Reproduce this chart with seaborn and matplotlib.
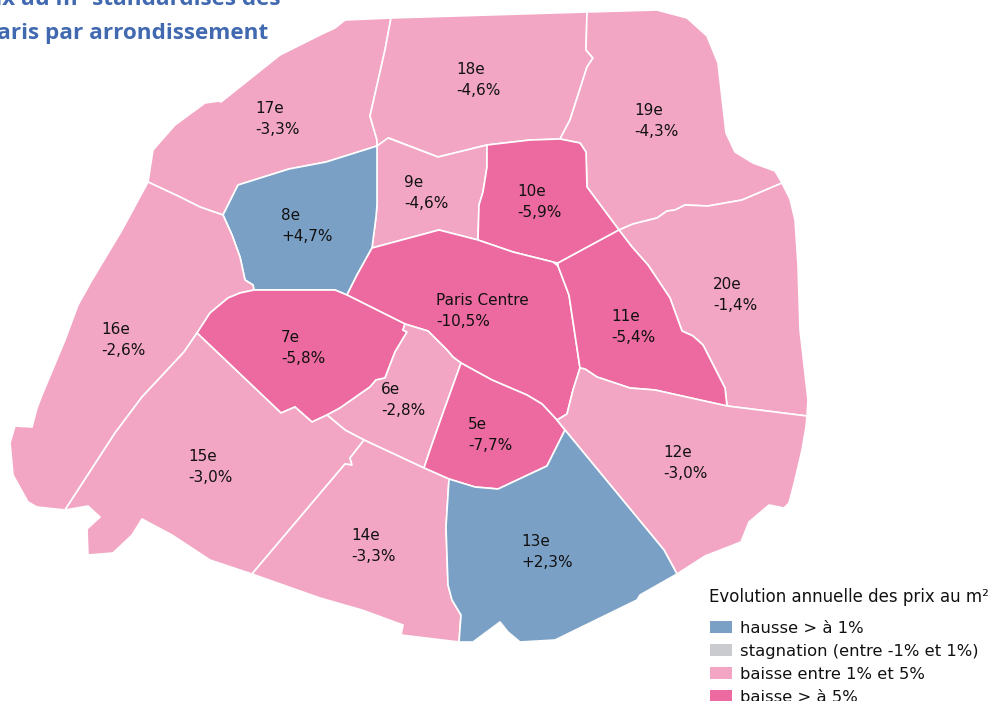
import matplotlib
matplotlib.use("Agg")
import matplotlib.pyplot as plt
from matplotlib.patches import Patch
import seaborn as sns

# ---------- data ----------
TITLE_LINE1 = "Evolution des prix au m² standardisés des"
TITLE_LINE2 = "Paris par arrondissement"
LEGEND_TITLE = "Evolution annuelle des prix au m²"
CLASS_LABELS = ["hausse > à 1%", "stagnation (entre -1% et 1%)",
                "baisse entre 1% et 5%", "baisse > à 5%"]
CLASS_COLORS = ["#7BA0C5", "#C9CBCE", "#F2A6C3", "#EC6A9F"]

DISTRICTS = ["17e", "18e", "19e", "9e", "8e", "10e", "20e", "16e", "Paris Centre",
             "11e", "7e", "6e", "5e", "15e", "12e", "14e", "13e"]
VALUES = ["-3,3%", "-4,6%", "-4,3%", "-4,6%", "+4,7%", "-5,9%", "-1,4%", "-2,6%", "-10,5%",
          "-5,4%", "-5,8%", "-2,8%", "-7,7%", "-3,0%", "-3,0%", "-3,3%", "+2,3%"]
CLASSES = [2, 2, 2, 2, 0, 3, 2, 2, 3, 3, 3, 2, 3, 2, 2, 2, 0]
LABEL_X = [255, 456, 634, 404, 281, 517, 713, 101, 436, 611, 281, 381, 468, 188, 663, 351, 521]
LABEL_Y = [119, 80, 121, 193, 226, 202, 295, 340, 311, 327, 348, 400, 435, 467, 463, 546, 552]

SHAPES = {
    "17e": [(148,182),(153,150),(175,125),(205,103),(219,101),(221,102),(280,55),(322,34),(335,28),(345,20),(391,18),
            (385,50),(370,116),(377,140),(377,146),(326,162),(289,169),(238,185),(223,215),(200,207),(178,196)],
    "18e": [(391,18),(587,12),(586,50),(593,58),(587,67),(570,120),(560,139),(530,140),(487,145),(438,157),(389,138),
            (377,146),(377,140),(370,116),(385,50)],
    "19e": [(587,12),(657,10),(687,18),(707,36),(718,63),(726,133),(735,152),(753,163),(775,171),(782,183),(742,200),
            (708,206),(685,205),(675,210),(667,211),(657,218),(633,224),(619,230),(587,187),(586,152),(580,143),(560,139),
            (570,120),(587,67),(593,58),(586,50)],
    "9e": [(377,146),(388,138),(438,157),(487,145),(487,167),(483,192),(479,205),(478,240),(439,230),(372,248),(376,217),(377,205)],
    "8e": [(377,146),(377,205),(376,217),(372,248),(357,275),(347,295),(335,290),(254,290),(253,285),(245,280),(240,257),(232,235),
           (223,215),(238,185),(289,169),(326,162)],
    "10e": [(487,145),(530,140),(560,139),(580,143),(586,152),(587,187),(619,230),(558,263),(553,262),(513,252),(478,240),(479,205),(483,192),(487,167)],
    "20e": [(782,183),(790,199),(795,220),(798,265),(800,330),(808,400),(807,416),(727,406),(725,388),(703,345),(693,336),(682,331),
            (670,298),(648,265),(632,247),(619,230),(633,224),(657,218),(667,211),(675,210),(685,205),(708,206),(742,200)],
    "16e": [(148,182),(178,196),(200,207),(223,215),(232,235),(240,257),(245,280),(253,285),(254,290),(240,293),(228,298),(210,313),(197,333),
            (184,352),(142,397),(115,433),(65,510),(37,507),(28,502),(13,475),(10,443),(15,426),(32,427),(37,408),(42,395),(65,340),(78,305),(92,280),(122,230)],
    "Paris Centre": [(372,248),(439,230),(478,240),(513,252),(553,262),(558,266),(569,295),(580,368),(573,390),(567,414),(557,420),(542,404),
                     (527,395),(492,380),(461,363),(453,357),(447,350),(428,331),(405,324),(347,295),(357,275)],
    "11e": [(619,230),(632,247),(648,265),(670,298),(682,331),(693,336),(703,345),(725,388),(727,406),(655,390),(630,388),(597,377),(585,369),
            (580,368),(569,295),(558,266),(558,263)],
    "7e": [(254,290),(335,290),(347,295),(405,324),(403,330),(407,332),(395,352),(385,378),(376,380),(370,387),(340,408),(327,415),(312,422),
           (295,407),(281,413),(197,333),(210,313),(228,298),(240,293)],
    "6e": [(405,324),(428,331),(447,350),(453,357),(461,363),(443,413),(430,450),(424,468),(364,440),(345,430),(327,415),(340,408),(370,387),
           (376,380),(385,378),(395,352),(407,332),(403,330)],
    "5e": [(461,363),(492,380),(527,395),(542,404),(557,420),(565,430),(547,466),(498,489),(475,487),(449,479),(424,468),(430,450),(443,413)],
    "15e": [(197,333),(281,413),(295,407),(312,422),(327,415),(345,430),(364,440),(350,458),(352,465),(345,464),(252,574),(210,560),(172,535),
            (142,519),(132,535),(113,553),(88,555),(87,529),(100,517),(88,506),(65,510),(115,433),(142,397),(184,352)],
    "12e": [(580,368),(585,369),(597,377),(630,388),(655,390),(727,406),(807,416),(806,427),(802,450),(795,480),(789,503),(784,508),(769,505),
            (749,522),(741,542),(705,556),(677,574),(664,550),(565,430),(557,420),(567,414),(573,390)],
    "14e": [(364,440),(424,468),(449,479),(446,527),(448,585),(452,600),(461,615),(459,642),(401,635),(403,625),(362,610),(320,598),(252,574),
            (345,464),(352,465),(350,458)],
    "13e": [(449,479),(475,487),(498,489),(547,466),(565,430),(664,550),(677,574),(640,595),(637,600),(555,640),(520,642),(508,632),(500,622),
            (473,642),(459,642),(461,615),(452,600),(448,585),(446,527)],
}

# ---------- drawing ----------
sns.set_theme(style="white", rc={"axes.facecolor": "white", "figure.facecolor": "white"})
plt.rcParams["font.family"] = ["DejaVu Sans"]
palette = sns.color_palette(CLASS_COLORS)

fig, ax = plt.subplots(figsize=(9.92, 7.01), dpi=100)
ax.set_position([0, 0, 1, 1])
ax.set_xlim(0, 992)
ax.set_ylim(701, 0)
ax.axis("off")

for name, cls in zip(DISTRICTS, CLASSES):
    xs, ys = zip(*SHAPES[name])
    ax.fill(xs, ys, facecolor=palette[cls], edgecolor="white", linewidth=1.2, joinstyle="round")

for name, val, x, y in zip(DISTRICTS, VALUES, LABEL_X, LABEL_Y):
    ax.text(x, y, f"{name}\n{val}", ha="left", va="center", fontsize=11,
            color="#111111", linespacing=1.42)

title_style = dict(ha="right", va="baseline", fontsize=16.2, fontweight="bold",
                   color="#4169B0", family="Open Sans")
ax.text(280, 5, TITLE_LINE1, **title_style)
ax.text(268, 39, TITLE_LINE2, **title_style)

ax.text(709, 597, LEGEND_TITLE, ha="left", va="center", fontsize=12, color="#111111")

handles = [Patch(facecolor=c, edgecolor="none", label=l) for c, l in zip(palette, CLASS_LABELS)]
leg = ax.legend(handles=handles, loc="upper left",
                bbox_to_anchor=(710 / 992, 1 - 621 / 701), frameon=False, fontsize=11.8,
                borderpad=0, borderaxespad=0,
                handlelength=1.34, handleheight=0.72, handletextpad=0.49, labelspacing=0.48)
for t in leg.get_texts():
    t.set_color("#111111")

fig.savefig("out.png", dpi=100)
